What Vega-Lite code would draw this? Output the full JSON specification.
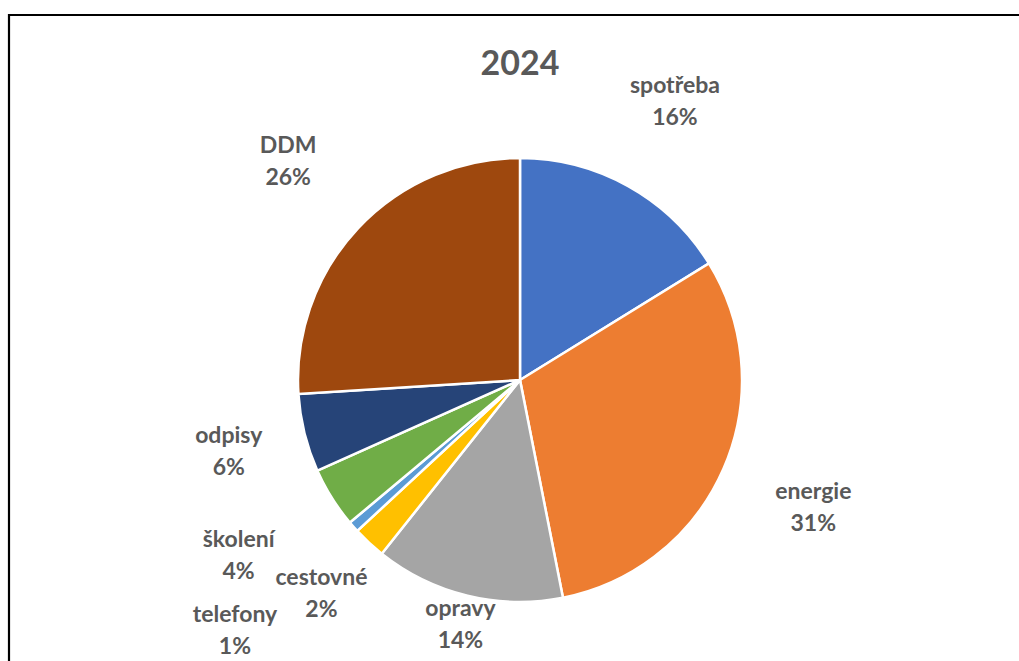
{
  "$schema": "https://vega.github.io/schema/vega-lite/v6.json",
  "autosize": {"type": "none"},
  "padding": {"left": 9, "top": 15, "right": -12, "bottom": -84},
  "width": 1022,
  "height": 730,
  "background": "white",
  "view": {"stroke": "#000000", "strokeWidth": 2.2},
  "config": {
    "font": "Lato"
  },
  "title": {
    "text": "2024",
    "font": "Lato",
    "fontSize": 34,
    "fontWeight": "bold",
    "color": "#595959",
    "anchor": "middle",
    "baseline": "alphabetic",
    "offset": -60,
    "dy": 34
  },
  "data": {
    "values": [
      {"category": "spotřeba", "rank": 1, "value": 0.162},
      {"category": "energie", "rank": 2, "value": 0.307},
      {"category": "opravy", "rank": 3, "value": 0.138},
      {"category": "cestovné", "rank": 4, "value": 0.024},
      {"category": "telefony", "rank": 5, "value": 0.008},
      {"category": "školení", "rank": 6, "value": 0.044},
      {"category": "odpisy", "rank": 7, "value": 0.057},
      {"category": "DDM", "rank": 8, "value": 0.260}
    ]
  },
  "encoding": {
    "theta": {"field": "value", "type": "quantitative", "stack": true},
    "order": {"field": "rank", "type": "quantitative", "sort": "ascending"}
  },
  "layer": [
    {
      "mark": {"type": "arc", "outerRadius": 222, "stroke": "white", "strokeWidth": 2.5},
      "encoding": {
        "color": {
          "field": "category",
          "type": "nominal",
          "legend": null,
          "scale": {
            "domain": ["spotřeba", "energie", "opravy", "cestovné", "telefony", "školení", "odpisy", "DDM"],
            "range": ["#4472C4", "#ED7D31", "#A5A5A5", "#FFC000", "#5B9BD5", "#70AD47", "#264478", "#9E480E"]
          }
        }
      }
    },
    {
      "mark": {
        "type": "text",
        "font": "Lato",
        "fontSize": 23,
        "fontWeight": "bold",
        "color": "#595959",
        "dy": -16,
        "radius": {"expr": "datum.category == 'telefony' ? 380 : datum.category == 'cestovné' ? 292 : datum.category == 'školení' ? 332 : datum.category == 'opravy' ? 252 : datum.category == 'energie' ? 320 : datum.category == 'odpisy' ? 300 : 318"}
      },
      "encoding": {"text": {"field": "category", "type": "nominal"}}
    },
    {
      "mark": {
        "type": "text",
        "font": "Lato",
        "fontSize": 23,
        "fontWeight": "bold",
        "color": "#595959",
        "dy": 16,
        "radius": {"expr": "datum.category == 'telefony' ? 380 : datum.category == 'cestovné' ? 292 : datum.category == 'školení' ? 332 : datum.category == 'opravy' ? 252 : datum.category == 'energie' ? 320 : datum.category == 'odpisy' ? 300 : 318"}
      },
      "encoding": {"text": {"field": "value", "type": "quantitative", "format": ".0%"}}
    }
  ]
}
